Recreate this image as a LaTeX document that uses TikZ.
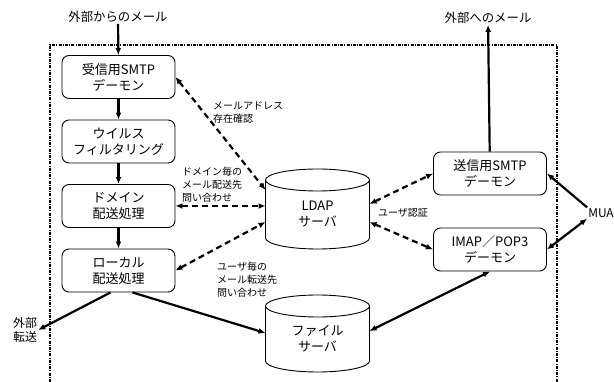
\documentclass[tikz,border=0pt]{standalone}
\usepackage{fontspec}
\setmainfont{Noto Sans CJK JP}
\usetikzlibrary{arrows.meta, calc}

% outline of a server drawn round a node: top ellipse, sides, bottom arc
\newcommand{\drawcyl}[1]{%
  \draw[db line] (#1.north) ellipse [x radius=52pt, y radius=11pt];
  \draw[db line] (#1.north west) -- ($(#1.south west)+(0,-11)$)
      arc[start angle=180, end angle=360, x radius=52pt, y radius=11pt]
      -- (#1.north east);}

\begin{document}
\begin{tikzpicture}[x=1pt, y=-1pt, font=\fontsize{13}{16}\selectfont]
        % Setup the styles for the boxes, the servers and the arrows
        \tikzset{proc style/.style={draw,
                                    rounded corners=7pt,
                                    line width=0.9pt,
                                    minimum width=113pt,
                                    minimum height=43pt,
                                    inner sep=1pt,
                                    align=center},
                 db style/.style={minimum width=104pt,
                                  minimum height=#1,
                                  inner sep=0pt, outer sep=0pt,
                                  align=center},
                 db line/.style={line width=0.9pt},
                 note style/.style={font=\fontsize{10}{13}\selectfont,
                                    align=left, inner sep=0pt},
                 ext style/.style={font=\fontsize{12.4}{15}\selectfont,
                                   inner sep=1pt},
                 flow/.style={line width=2.2pt, >={Latex[length=7pt,width=6pt]}},
                 query/.style={flow, dash pattern=on 6pt off 4pt},
                 frame/.style={line width=1.2pt,
                               dash pattern=on 3pt off 1.2pt on 1pt off 1.2pt}}

        \useasboundingbox (0,0) rectangle (614,382);

        % The server frame
        \draw[frame] (50,382) |- (557,45) -- (557,382);

        % Draw the daemons
        \node[proc style] at (118.5, 77)    (rcv)   {受信用SMTP\\デーモン};
        \node[proc style] at (118.5, 141.5) (virus) {ウイルス\\フィルタリング};
        \node[proc style] at (118.5, 206)   (dom)   {ドメイン\\配送処理};
        \node[proc style] at (118.5, 270.5) (local) {ローカル\\配送処理};
        \node[proc style] at (490, 173.5)   (send)  {送信用SMTP\\デーモン};
        \node[proc style] at (490, 249.5)   (imap)  {IMAP／POP3\\デーモン};

        % Draw the servers
        \node[db style=69pt] at (317.5, 214.5) (ldap) {LDAP\\サーバ};
        \node[db style=66pt] at (317.5, 339)   (file) {ファイル\\サーバ};
        \drawcyl{ldap}
        \drawcyl{file}

        % Outside ends
        \node[ext style] at (118, 17)  (mailin)  {外部からのメール};
        \node[ext style] at (488, 18)  (mailout) {外部へのメール};
        \node[ext style, align=center, font=\fontsize{12}{14}\selectfont]
            at (25, 330) (fwd) {外部\\転送};
        \node[ext style, font=\fontsize{12}{14}\selectfont] at (601, 213) (mua) {MUA};

        % Notes on the queries
        \node[note style, anchor=west] at (213, 113) (addr)  {メールアドレス\\存在確認};
        \node[note style, anchor=west] at (182, 185) (dquery) {ドメイン毎の\\メール配送先\\問い合わせ};
        \node[note style, anchor=west] at (217, 280) (uquery) {ユーザ毎の\\メール転送先\\問い合わせ};
        \node[note style] at (403, 213) (auth) {ユーザ認証};

        % Mail flow
        \draw[flow, ->] (mailin) -- (rcv);
        \draw[flow, ->] (rcv) -- (virus);
        \draw[flow, ->] (virus) -- (dom);
        \draw[flow, ->] (dom) -- (local);
        \draw[flow, ->] ([xshift=-8pt]local.south) -- (fwd.east);
        \draw[flow, ->] ([xshift=14pt]local.south) -- ($(file.west)+(0,-6)$);
        \draw[flow, <->] ($(file.east)+(0,-8)$) -- (imap.south);
        \draw[flow, ->] (send) -- (mailout);
        \draw[flow, ->] (mua.north west) -- (send.east);
        \draw[flow, <->] (mua.south west) -- (imap.east);

        % Queries to the LDAP server
        \draw[query, <->] (rcv.east) -- ($(ldap.west)+(0,-24.5)$);
        \draw[query, <->] (dom.east) -- ($(ldap.west)+(0,-8.5)$);
        \draw[query, <->] (local.east) -- ($(ldap.west)+(0,7.5)$);
        \draw[query, <->] ($(ldap.east)+(0,-10.5)$) -- (send.west);
        \draw[query, <->] ($(ldap.east)+(0,7.5)$) -- (imap.west);
\end{tikzpicture}
\end{document}
